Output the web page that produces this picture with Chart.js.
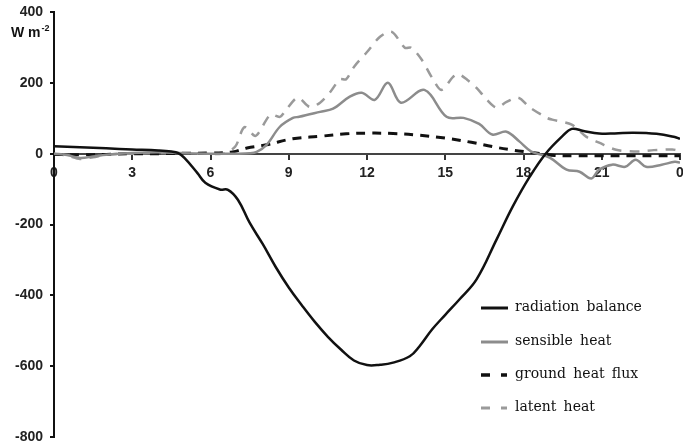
<!DOCTYPE html>
<html>
<head>
<meta charset="utf-8">
<script src="https://cdn.jsdelivr.net/npm/chart.js@4"></script>
<style>
  html, body { margin: 0; padding: 0; background: #fff; }
  #wrap { width: 683px; height: 448px; position: relative; }
</style>
</head>
<body>
<div id="wrap"><canvas id="fluxChart"></canvas></div>
<script>
// Diurnal energy balance terms, W m-2 against hour of day
const seriesLabels = ["radiation balance", "sensible heat", "ground heat flux", "latent heat"];

const radHours = [0, 1, 2, 3, 4, 4.5, 4.75, 5, 5.5, 5.8, 6.36, 6.67, 7.05, 7.5, 8, 8.5, 9, 9.5, 10, 10.5, 11, 11.5, 12, 12.5, 13, 13.64, 14, 14.5, 15, 15.55, 16.2, 16.97, 17.59, 18.24, 18.85, 19.5, 19.85, 20.3, 20.9, 21.5, 22.2, 23.1, 23.8, 24];
const radValues = [21, 18, 15, 12, 9, 6, 2, -12, -55, -82, -101, -102, -130, -195, -255, -320, -378, -428, -475, -517, -553, -584, -597, -596, -590, -572, -545, -496, -455, -411, -355, -242, -149, -65, 0, 50, 70, 64, 57, 57, 59, 56, 47, 42];

const sensHours = [0, 0.5, 1, 1.5, 2, 3, 4, 5, 6, 7, 7.5, 7.77, 8.15, 8.66, 9.16, 9.4, 10.2, 10.7, 11.34, 11.8, 12.3, 12.8, 13.3, 14.2, 15.05, 15.7, 16.3, 16.8, 17.35, 17.85, 18.3, 19, 19.65, 20.15, 20.6, 20.9, 21.4, 21.9, 22.3, 22.7, 23.3, 23.8, 24];
const sensValues = [0, -4, -12, -8, -3, 2, 4, 1, 0, 0, 1, 5, 25, 76, 101, 104, 118, 127, 161, 172, 152, 200, 144, 180, 104, 101, 84, 54, 62, 34, 6, -11, -45, -51, -70, -45, -31, -37, -17, -37, -31, -23, -25];

const groundHours = [0, 1, 2, 3, 4, 5, 6, 6.5, 6.85, 7.4, 8.15, 9.15, 10.2, 11.2, 12, 13, 14, 15, 16, 16.8, 17.5, 18.1, 18.7, 19.2, 20, 21, 22, 23, 24];
const groundValues = [-2, -3, -2, 0, 0, 1, 2, 3, 5, 16, 25, 42, 49, 56, 58, 57, 52, 44, 32, 20, 11, 5, 0, -5, -6, -6, -6, -6, -6];

const latHours = [0, 0.5, 1, 1.5, 2, 3, 4, 5, 6, 6.5, 6.95, 7.3, 7.7, 7.85, 8.3, 8.66, 8.9, 9.35, 9.8, 10.2, 10.6, 10.96, 11.2, 11.5, 12, 12.5, 12.95, 13.45, 13.7, 14.1, 14.5, 14.85, 15.3, 15.5, 15.85, 16.2, 16.6, 16.97, 17.35, 17.8, 18.25, 18.9, 19.1, 19.85, 20.4, 20.9, 21.55, 22.4, 23, 23.7, 24];
const latValues = [0, -5, -15, -10, -3, 0, 2, 0, 0, 0, 20, 75, 50, 59, 110, 104, 124, 158, 132, 144, 175, 210, 210, 245, 287, 330, 344, 299, 299, 265, 214, 180, 217, 225, 208, 186, 152, 130, 146, 158, 130, 101, 96, 82, 48, 31, 11, 6, 10, 12, 8];

const hourTicks = [0, 3, 6, 9, 12, 15, 18, 21, 24];
const fluxTicks = [400, 200, 0, -200, -400, -600, -800];

function toPoints(xs, ys) {
    return xs.map((x, i) => ({ x: x, y: ys[i] }));
}

// Unit label above the y axis: "W m" with a raised "-2"
const unitLabel = {
    id: 'unitLabel',
    afterDraw(chart) {
        const ctx = chart.ctx;
        ctx.save();
        ctx.fillStyle = "#111";
        ctx.textBaseline = "alphabetic";
        ctx.font = "bold 14px 'Liberation Sans', Arial, sans-serif";
        ctx.fillText("W m", 11, 37);
        const w = ctx.measureText("W m").width;
        ctx.font = "bold 9px 'Liberation Sans', Arial, sans-serif";
        ctx.fillText("-2", 11 + w + 1, 31);
        ctx.restore();
    }
};

// Legend drawn in the lower right of the plot area
const innerLegend = {
    id: 'innerLegend',
    afterDraw(chart) {
        const ctx = chart.ctx;
        const x0 = 481, x1 = 508, rowY = [308, 342, 375, 408];
        ctx.save();
        chart.data.datasets.forEach((ds, i) => {
            const y = rowY[i];
            ctx.strokeStyle = ds.borderColor;
            ctx.lineWidth = ds.borderWidth + 0.5;
            if (ds.borderDash && ds.borderDash.length) {
                ctx.beginPath();
                ctx.moveTo(x0, y); ctx.lineTo(x0 + 9, y);
                ctx.moveTo(x1 - 7, y); ctx.lineTo(x1 - 1, y);
                ctx.stroke();
            } else {
                ctx.beginPath();
                ctx.moveTo(x0, y); ctx.lineTo(x1, y);
                ctx.stroke();
            }
            ctx.fillStyle = "#111";
            ctx.font = "14px 'DejaVu Serif', serif";
            ctx.textBaseline = "middle";
            ctx.fillText(ds.label.replace(/ /g, "  ").replace(/  /g, " \u2009"), 515, y - 1);
        });
        ctx.restore();
    }
};

const tickFont = { family: "'Liberation Sans', Arial, sans-serif", size: 14, weight: "bold" };

new Chart(document.getElementById("fluxChart"), {
    type: "line",
    data: {
        datasets: [
            {
                label: seriesLabels[0],
                data: toPoints(radHours, radValues),
                borderColor: "#111",
                borderWidth: 2.5,
                tension: 0.4
            },
            {
                label: seriesLabels[1],
                data: toPoints(sensHours, sensValues),
                borderColor: "#8c8c8c",
                borderWidth: 2.5,
                tension: 0.35
            },
            {
                label: seriesLabels[2],
                data: toPoints(groundHours, groundValues),
                borderColor: "#111",
                borderWidth: 3,
                borderDash: [9, 7],
                tension: 0.4
            },
            {
                label: seriesLabels[3],
                data: toPoints(latHours, latValues),
                borderColor: "#9a9a9a",
                borderWidth: 2.5,
                borderDash: [10, 8],
                tension: 0.3
            }
        ]
    },
    options: {
        responsive: true,
        maintainAspectRatio: false,
        animation: false,
        layout: { padding: { left: 0, right: 3, top: 12, bottom: 11 } },
        elements: { point: { radius: 0 } },
        plugins: {
            legend: { display: false },
            tooltip: { enabled: false }
        },
        scales: {
            x: {
                type: "linear",
                position: { y: 0 },
                min: 0,
                max: 24,
                afterBuildTicks(scale) {
                    scale.ticks = hourTicks.map(v => ({ value: v }));
                },
                afterFit(scale) {
                    scale.height = 0;
                    scale.paddingLeft = 0;
                    scale.paddingRight = 0;
                },
                ticks: {
                    autoSkip: false,
                    maxRotation: 0,
                    padding: 6,
                    color: "#222",
                    font: tickFont,
                    callback: v => String(v % 24)
                },
                grid: {
                    drawOnChartArea: false,
                    drawTicks: true,
                    tickLength: 5,
                    color: "#333",
                    lineWidth: 2
                },
                border: { color: "#444", width: 2 }
            },
            y: {
                min: -800,
                max: 400,
                afterBuildTicks(scale) {
                    scale.ticks = fluxTicks.map(v => ({ value: v }));
                },
                afterFit(scale) {
                    scale.width = 54;
                    scale.paddingTop = 0;
                    scale.paddingBottom = 0;
                },
                ticks: {
                    autoSkip: false,
                    padding: 7,
                    color: "#222",
                    font: tickFont
                },
                grid: {
                    drawOnChartArea: false,
                    drawTicks: true,
                    tickLength: 4,
                    color: "#111",
                    lineWidth: 2
                },
                border: { color: "#111", width: 2 }
            }
        }
    },
    plugins: [unitLabel, innerLegend]
});
</script>
</body>
</html>
